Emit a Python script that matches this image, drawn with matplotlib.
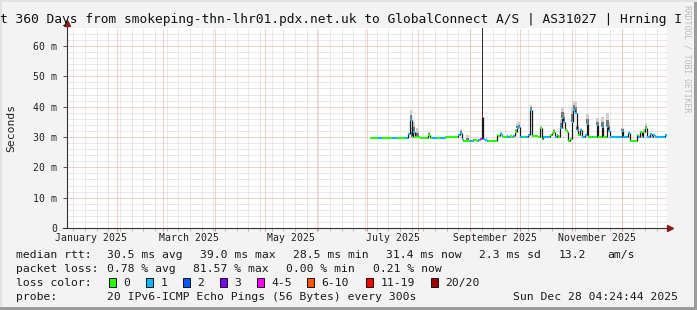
import numpy as np
import matplotlib.pyplot as plt
from matplotlib.collections import LineCollection
from matplotlib.patches import Rectangle

plt.rcParams['font.family'] = 'DejaVu Sans Mono'

W, H = 697, 310

# time window of the graph
t_end = np.datetime64('2025-12-28T04:24:44')
t_start = t_end - np.timedelta64(360, 'D')

# one consolidated value per day from this date on
data_start = np.datetime64('2025-07-03T00:00:00')

# median rtt in ms, one per day
median_ms = [
    29.8, 29.8, 29.8, 29.8, 29.8, 29.8, 29.8, 29.8, 29.8, 29.8,
    29.8, 29.8, 29.8, 29.8, 29.8, 29.8, 29.8, 29.8, 29.8, 29.8,
    29.8, 29.8, 29.6, 31.0, 35.6, 30.0, 31.5, 29.9, 29.9, 29.9,
    29.8, 29.8, 29.8, 29.8, 29.8, 30.6, 29.8, 29.8, 29.8, 29.8,
    29.8, 29.8, 29.8, 29.8, 29.8, 30.0, 30.1, 30.1, 30.1, 30.1,
    30.1, 30.1, 30.1, 30.5, 31.2, 29.3, 28.8, 28.6, 28.7, 28.6,
    28.7, 28.7, 29.0, 29.0, 28.8, 29.0, 29.5, 36.7, 29.3, 29.1,
    28.7, 28.6, 28.6, 28.6, 28.6, 28.6, 30.6, 30.3, 30.9, 30.2,
    30.1, 30.1, 30.2, 30.1, 30.2, 30.1, 30.4, 31.5, 32.9, 33.2,
    30.0, 29.9, 29.9, 29.9, 29.9, 30.5, 39.0, 30.4, 30.4, 30.4,
    30.4, 30.0, 32.9, 29.4, 29.9, 29.9, 29.9, 29.9, 30.6, 31.2,
    31.8, 29.9, 30.5, 29.9, 33.0, 36.2, 35.0, 32.3, 31.5, 28.6,
    29.5, 35.0, 38.9, 38.0, 32.3, 30.5, 32.3, 29.9, 29.9, 30.5,
    34.3, 29.9, 29.9, 29.9, 29.9, 29.9, 34.0, 30.0, 30.0, 33.4,
    29.9, 30.0, 33.4, 32.0, 29.9, 29.9, 29.9, 29.9, 29.9, 29.9,
    29.9, 32.0, 29.9, 29.9, 29.9, 31.2, 28.8, 28.6, 28.6, 28.8,
    30.5, 29.9, 31.8, 30.0, 31.5, 32.9, 30.0, 29.9, 31.0, 29.9,
    30.8, 29.9, 29.9, 29.9, 29.9, 29.9, 29.9, 30.5, 31.4,
]

# loss band per day (index into loss_colors)
loss_idx = [
    0, 0, 0, 0, 0, 1, 1, 0, 0, 0,
    0, 0, 0, 1, 1, 1, 0, 0, 0, 0,
    0, 1, 1, 1, 1, 0, 1, 0, 0, 0,
    0, 0, 0, 0, 0, 0, 0, 1, 1, 1,
    0, 0, 1, 1, 1, 0, 0, 0, 0, 0,
    0, 0, 0, 1, 1, 1, 0, 0, 0, 0,
    1, 1, 0, 0, 0, 1, 4, 6, 1, 1,
    1, 0, 0, 0, 0, 0, 0, 0, 1, 1,
    0, 0, 1, 1, 0, 0, 1, 0, 1, 1,
    1, 1, 0, 1, 1, 1, 1, 0, 0, 0,
    0, 0, 0, 0, 1, 1, 1, 1, 0, 0,
    0, 1, 0, 0, 1, 1, 1, 0, 0, 0,
    0, 1, 1, 1, 1, 0, 1, 1, 1, 1,
    1, 0, 0, 1, 0, 0, 1, 0, 0, 1,
    0, 0, 1, 1, 1, 1, 1, 1, 1, 1,
    1, 1, 1, 1, 1, 1, 0, 0, 0, 0,
    0, 1, 0, 1, 0, 0, 1, 1, 1, 1,
    1, 1, 1, 1, 1, 1, 1, 1, 1,
]

# days with visible smoke above the median, and its top in ms
smoke_days = [24, 25, 26, 28, 35, 54, 58, 67, 78, 87, 88, 89, 96, 102, 110,
              114, 115, 116, 121, 122, 123, 124, 126, 130, 136, 139, 142,
              143, 151, 155, 164, 165]
smoke_top_ms = [38.9, 33.0, 35.0, 33.0, 31.8, 32.8, 30.5, 66.0, 31.8, 32.8,
                34.5, 34.8, 40.5, 34.0, 32.5, 36.0, 40.0, 38.0, 40.0, 42.0,
                41.5, 34.0, 33.0, 37.5, 36.2, 36.5, 38.0, 35.0, 33.0, 32.0,
                32.5, 34.5]

loss_colors = ['#26ff00', '#00b8ff', '#0059ff', '#7e00ff', '#ff00ff',
               '#ff5500', '#ff0000', '#a10000']
loss_labels = ['0', '1', '2', '3', '4-5', '6-10', '11-19', '20/20']

month_label_names = ['January 2025', 'March 2025', 'May 2025', 'July 2025',
                     'September 2025', 'November 2025']
month_label_starts = ['2025-01', '2025-03', '2025-05', '2025-07', '2025-09', '2025-11']

y_ticks_ms = [0, 10, 20, 30, 40, 50, 60]
y_tick_labels = ['0', '10 m', '20 m', '30 m', '40 m', '50 m', '60 m']


def days(t):
    t = np.asarray(t).astype('datetime64[s]')
    return (t - t_start).astype('timedelta64[s]').astype(float) / 86400.0


def fx(px):
    return px / W


def fy(py):
    return 1 - py / H


fig = plt.figure(figsize=(W / 100, H / 100), dpi=100, facecolor='#f3f3f3')

# 3d-ish frame of the rrdtool canvas
fig.patches.append(Rectangle((fx(W - 3), 0), fx(3), 1, transform=fig.transFigure,
                             facecolor='#9c9c9c', edgecolor='none'))
fig.patches.append(Rectangle((0, 0), 1, 3 / H, transform=fig.transFigure,
                             facecolor='#9c9c9c', edgecolor='none'))
fig.patches.append(Rectangle((0, fy(2)), 1, 2 / H, transform=fig.transFigure,
                             facecolor='#e2e2e2', edgecolor='none'))
fig.patches.append(Rectangle((0, 3 / H), fx(2), 1, transform=fig.transFigure,
                             facecolor='#e2e2e2', edgecolor='none'))

ax = fig.add_axes([fx(67), fy(228), fx(600), 200 / H])
ax.set_facecolor('white')
for s in ax.spines.values():
    s.set_visible(False)
ymax = 65.93
ax.set_xlim(0, 360)
ax.set_ylim(0, ymax)

# dotted grid
mondays = np.arange(np.datetime64('2025-01-06'), np.datetime64('2025-12-28'),
                    np.timedelta64(7, 'D'))
month_starts = np.arange(np.datetime64('2025-02'), np.datetime64('2026-01'),
                         np.timedelta64(1, 'M')).astype('datetime64[D]')
grid_kw = dict(lw=0.72, ls=(0, (1, 1)), snap=True)
for x in days(mondays):
    ax.axvline(x, color='#d3d3d3', zorder=1, **grid_kw)
for y in np.arange(2, 66, 2):
    if y % 10:
        ax.axhline(y, color='#d3d3d3', zorder=1, **grid_kw)
for x in days(month_starts):
    ax.axvline(x, color='#f3a5a5', zorder=1.5, **grid_kw)
for y in y_ticks_ms[1:]:
    ax.axhline(y, color='#f3a5a5', zorder=1.5, **grid_kw)

# data positions
med = np.array(median_ms)
n = len(med)
x0 = days(data_start) + np.arange(n)
x1 = x0 + 1

# smoke
for d, top in zip(smoke_days, smoke_top_ms):
    m = med[d]
    top = min(top, ymax)
    if loss_idx[d] >= 5:
        ax.add_patch(Rectangle((x0[d] + 0.3, m), 0.6, top - m,
                               facecolor='#2e2e2e', edgecolor='none', zorder=2))
        continue
    ax.add_patch(Rectangle((x0[d] - 0.2, m), 1.4, top - m,
                           facecolor='#cfcfcf', edgecolor='none', zorder=2))
    ax.add_patch(Rectangle((x0[d] - 0.2, m), 1.4, (top - m) * 0.5,
                           facecolor='#7a7a7a', edgecolor='none', zorder=2.1))

# median: vertical joins in dark, then loss-coloured steps
joins = [[(x1[i], med[i]), (x1[i], med[i + 1])] for i in range(n - 1)]
ax.add_collection(LineCollection(joins, colors='#1a1a1a', linewidths=0.9, zorder=3))
steps = [[(x0[i], med[i]), (x1[i], med[i])] for i in range(n)]
ax.add_collection(LineCollection(steps, colors=[loss_colors[k] for k in loss_idx],
                                 linewidths=1.5, zorder=4, capstyle='butt'))

# y ticks
ax.set_yticks(y_ticks_ms)
ax.set_yticklabels(y_tick_labels)
ax.tick_params(axis='y', length=3, width=0.7, color='#555555', pad=4,
               labelsize=7.1, labelcolor='#222222')
ax.set_xticks(days(month_starts))
ax.set_xticklabels([])
ax.set_xticks(days(mondays), minor=True)
ax.tick_params(axis='x', which='major', length=2, width=0.7, color='#ee7f7f')
ax.tick_params(axis='x', which='minor', length=2, width=0.7, color='#bbbbbb')

# month labels centered in the month
for name, ms in zip(month_label_names, month_label_starts):
    a = np.datetime64(ms, 'M')
    mid = days(a.astype('datetime64[D]')) / 2 + days((a + 1).astype('datetime64[D]')) / 2
    ax.text(mid, -0.048, name, transform=ax.get_xaxis_transform(),
            ha='center', va='center', fontsize=7.1, color='#222222')

# axes with arrows
fig.add_artist(plt.Line2D([fx(67), fx(67)], [fy(228), fy(24)], color='#333333',
                          lw=0.8, snap=True))
fig.add_artist(plt.Line2D([fx(63), fx(668)], [fy(228), fy(228)], color='#333333',
                          lw=0.8, snap=True))
fig.add_artist(plt.Line2D([fx(67)], [fy(23)], marker='^', markersize=4.5,
                          color='#8b1a1a', lw=0))
fig.add_artist(plt.Line2D([fx(670)], [fy(228)], marker='>', markersize=4.5,
                          color='#8b1a1a', lw=0))

# title and side texts
fig.text(fx(0.5), fy(22.5), 't 360 Days from smokeping-thn-lhr01.pdx.net.uk to '
         'GlobalConnect A/S | AS31027 | Hrning I',
         ha='left', va='baseline', fontsize=9.3, color='#111111')
fig.text(fx(11), fy(128), 'Seconds', rotation=90, ha='center', va='center',
         fontsize=8.2, color='#222222')
fig.text(fx(687.5), fy(59), 'RRDTOOL / TOBI OETIKER', rotation=270,
         ha='center', va='center', fontsize=5.9, color='#bdbdbd')

# legend rows
lg = dict(fontsize=8.2, color='#1a1a1a', ha='left', va='baseline')
row1 = [(16, 'median rtt:'), (107.3, '30.5 ms avg'), (200, '39.0 ms max'),
        (293.3, '28.5 ms min'), (386, '31.4 ms now'), (479.3, '2.3 ms sd'),
        (558.3, '13.2'), (607.3, 'am/s')]
row2 = [(16, 'packet loss:'), (107.3, '0.78 % avg'), (193.3, '81.57 % max'),
        (286, '0.00 % min'), (372.7, '0.21 % now')]
for x, s in row1:
    fig.text(fx(x), fy(258), s, **lg)
for x, s in row2:
    fig.text(fx(x), fy(272), s, **lg)

fig.text(fx(16), fy(286.3), 'loss color:', **lg)
box_x = [108.7, 145.7, 182.7, 219.7, 256.7, 306.7, 365.7, 430.7]
for bx, c, lab in zip(box_x, loss_colors, loss_labels):
    fig.patches.append(Rectangle((fx(bx), fy(286.5)), 7 / W, 8.5 / H,
                                 transform=fig.transFigure, facecolor=c,
                                 edgecolor='#111111', lw=0.7))
    fig.text(fx(bx + 14.7), fy(286.3), lab, **lg)

fig.text(fx(16), fy(299.8), 'probe:', **lg)
fig.text(fx(107.3), fy(299.8), '20 IPv6-ICMP Echo Pings (56 Bytes) every 300s', **lg)
fig.text(fx(513.3), fy(299.8), 'Sun Dec 28 04:24:44 2025', **lg)

fig.savefig('out.png', dpi=100, facecolor=fig.get_facecolor())
